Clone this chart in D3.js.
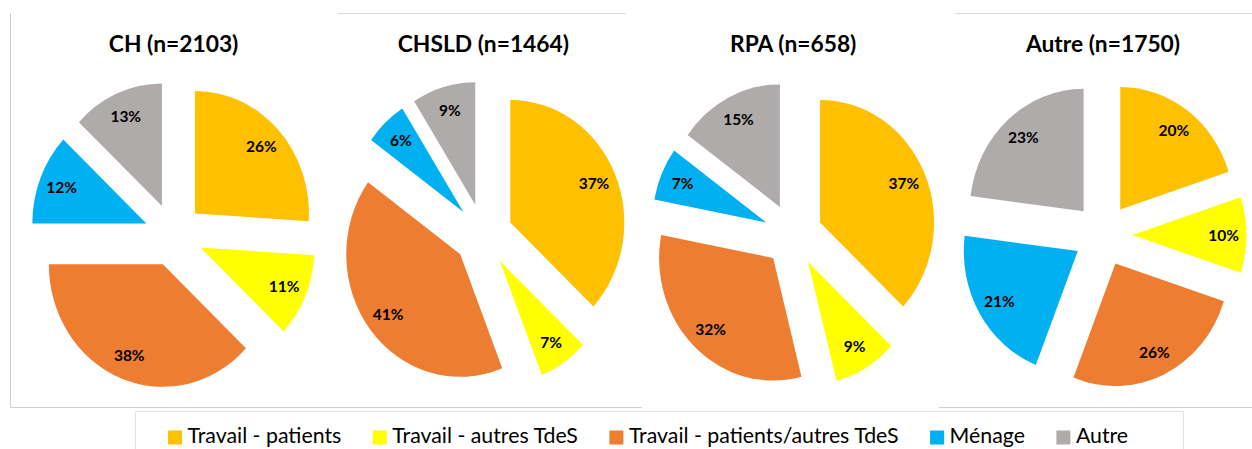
<!DOCTYPE html>
<html>
<head>
<meta charset="utf-8">
<script src="https://cdn.jsdelivr.net/npm/d3@7"></script>
<style>
  body { margin: 0; background: #fff; }
  text { font-family: Lato, "Noto Sans", sans-serif; }
</style>
</head>
<body>
<svg id="chart"></svg>
<script>
// share of cases by exposure source, per type of setting
const charts = ["CH (n=2103)", "CHSLD (n=1464)", "RPA (n=658)", "Autre (n=1750)"];
const categories = ["Travail - patients", "Travail - autres TdeS", "Travail - patients/autres TdeS", "Ménage", "Autre"];
const chValues = [26, 11, 38, 12, 13];
const chsldValues = [37, 7, 41, 6, 9];
const rpaValues = [37, 9, 32, 7, 15];
const autreValues = [20, 10, 26, 21, 23];
const seriesByChart = [chValues, chsldValues, rpaValues, autreValues];
const palette = ["#FFC000", "#FFFF00", "#ED7D31", "#00B0F0", "#AFABAB"];

const width = 1252, height = 449;

const svg = d3.select("#chart")
  .attr("width", width)
  .attr("height", height);

const color = d3.scaleOrdinal().domain(categories).range(palette);

// the source pies are a bit stretched vertically
const rx = 114, sy = 1.075, explode = 29.3, cy = 235;

const xPos = d3.scalePoint().domain(charts).range([173.6, 1103]);

// panel frames (light grey, partly cropped like the source)
const frame = svg.append("g").attr("stroke", "#d0d0d0").attr("stroke-width", 1).attr("fill", "none");
frame.append("path").attr("d", "M10.5,13 V407.5 H642");
frame.append("path").attr("d", "M939,407.5 H1252");
frame.append("path").attr("d", "M338,13.5 H626").attr("stroke", "#dadada");
frame.append("path").attr("d", "M955,13.5 H1252").attr("stroke", "#dadada");
frame.append("path").attr("d", "M135.5,449 V411.5 H1183.5 V449").attr("stroke", "#e2e2e2");

const pie = d3.pie().sort(null).value(d => d);
const arc = d3.arc().innerRadius(0).outerRadius(rx);

charts.forEach((title, i) => {
  const cx = xPos(title);
  const g = svg.append("g");

  g.append("text")
    .attr("x", cx)
    .attr("y", 52)
    .attr("text-anchor", "middle")
    .style("font-size", "22.8px")
    .style("font-weight", "bold")
    .attr("fill", "#000")
    .text(title);

  const slices = pie(seriesByChart[i]);

  const pieG = g.append("g")
    .attr("transform", `translate(${cx},${cy}) scale(1,${sy})`);

  pieG.selectAll("path")
    .data(slices)
    .join("path")
    .attr("fill", (d, j) => color(categories[j]))
    .attr("transform", d => {
      const a = (d.startAngle + d.endAngle) / 2;
      return `translate(${explode * Math.sin(a)},${-explode * Math.cos(a)})`;
    })
    .attr("d", arc);

  g.selectAll("text.lbl")
    .data(slices)
    .join("text")
    .attr("class", "lbl")
    .attr("x", d => {
      const a = (d.startAngle + d.endAngle) / 2;
      return cx + (explode + 0.8 * rx) * Math.sin(a);
    })
    .attr("y", d => {
      const a = (d.startAngle + d.endAngle) / 2;
      return cy - (explode + 0.8 * rx) * Math.cos(a) * sy;
    })
    .attr("dy", "0.36em")
    .attr("text-anchor", "middle")
    .style("font-size", "15.5px")
    .style("font-weight", "bold")
    .attr("fill", "#000")
    .text(d => d.data + "%");
});

// legend
const legend = svg.append("g").attr("transform", "translate(168,443)");
let lx = 0;
categories.forEach(c => {
  legend.append("rect")
    .attr("x", lx)
    .attr("y", -12.5)
    .attr("width", 14)
    .attr("height", 14)
    .attr("fill", color(c));
  const t = legend.append("text")
    .attr("x", lx + 19.5)
    .attr("y", 0)
    .style("font-size", "21.3px")
    .attr("fill", "#000")
    .text(c);
  lx += 19.5 + t.node().getComputedTextLength() + 31.5;
});
</script>
</body>
</html>
